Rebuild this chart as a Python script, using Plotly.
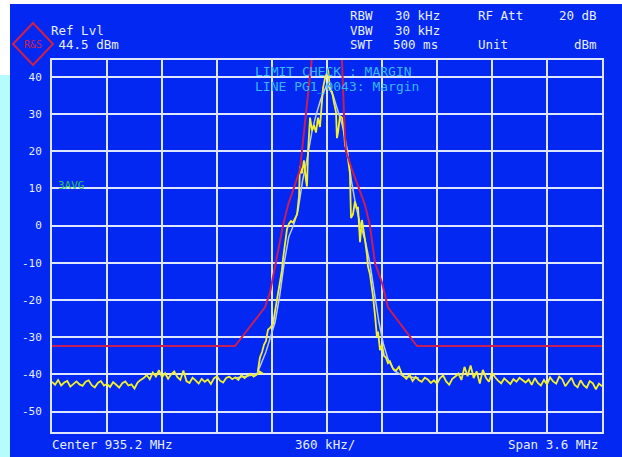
import plotly.graph_objects as go

# ---------------- data ----------------
CENTER_MHZ = 935.2
SPAN_MHZ = 3.6
REF_LVL = 44.5

y_tick_vals = [40, 30, 20, 10, 0, -10, -20, -30, -40, -50]
y_tick_text = ["40", "30", "20", "10", "0", "-10", "-20", "-30", "-40", "-50"]

# yellow measured trace (offset from centre in kHz, level in dBm)
noise_left_k = list(range(-1800, -400, 20))
noise_left_db = [
    -42.0, -42.8, -41.5, -43.0, -42.2, -41.8, -43.3, -42.5, -41.9, -42.7,
    -43.1, -42.0, -41.6, -42.9, -43.5, -42.3, -41.8, -43.0, -42.6, -43.4,
    -42.1, -42.8, -43.6, -42.4, -41.9, -43.0, -42.7, -43.8, -42.2, -41.5,
    -41.0, -40.2, -41.3, -39.5, -40.6, -38.9, -40.8, -39.7, -41.2, -40.0,
    -39.2, -40.7, -41.5, -39.0, -41.8, -42.3, -40.9, -41.6, -42.5, -41.2,
    -42.0, -41.4, -42.6, -41.1, -40.5, -41.7, -42.2, -41.0, -40.6, -41.3,
    -40.8, -41.5, -40.2, -41.0, -40.4, -39.8, -40.6, -40.1, -39.5, -39.8,
]
signal_k = [
    -452, -439, -425, -412, -399, -393, -386, -373, -360, -353, -340,
    -327, -321, -308, -295, -288, -275, -262, -249, -236, -223, -209, -196,
    -183, -177, -164, -151, -137, -131, -124, -111, -98, -85, -72, -59, -46,
    -33, -26, -13, 0, 7, 20, 33, 46, 59, 65, 72, 85, 98, 111, 118, 131, 137,
    150, 157, 170, 183, 196, 203, 216, 229, 236, 249, 262, 268, 281, 295, 301,
    314, 327, 334, 347, 360, 373, 386, 399, 412, 432, 452, 471, 491,
]
signal_db = [
    -39.0, -35.5, -34.0, -32.0, -31.0, -29.5, -28.0, -27.5, -27.0, -26.5, -23.0,
    -20.0, -18.0, -15.0, -12.0, -9.0, -5.0, -1.0, 0.5, 1.2, 0.8, 2.0, 3.0,
    8.0, 16.0, 14.0, 17.5, 12.0, 10.5, 20.0, 29.0, 25.5, 27.0, 25.0, 29.0, 26.5,
    33.0, 37.0, 39.5, 41.5, 42.0, 36.5, 36.0, 33.0, 30.5, 23.5, 25.0, 29.5, 29.0,
    26.0, 21.5, 20.0, 18.0, 14.0, 2.0, 3.0, 6.5, 4.5, 5.0, -4.5, 1.5, -1.0,
    -4.0, -8.0, -11.0, -13.0, -16.5, -19.0, -24.0, -30.0, -28.5, -33.5, -32.0,
    -35.0, -35.5, -37.0, -36.5, -38.5, -39.0, -38.0, -40.0,
]
noise_right_k = list(range(500, 1820, 20))
noise_right_db = [
    -40.5, -41.2, -40.0, -41.8, -40.7, -41.5, -42.0, -40.9, -41.4, -42.3,
    -41.6, -42.5, -41.0, -40.3, -41.9, -42.8, -41.2, -40.6, -39.8, -41.5,
    -38.0, -40.5, -37.6, -41.0, -39.2, -42.5, -38.8, -40.9, -42.0, -39.5,
    -40.8, -41.7, -42.4, -41.1, -41.8, -42.6, -41.3, -42.0, -40.9, -41.6,
    -42.2, -41.4, -42.8, -41.0, -42.3, -43.0, -41.5, -42.7, -40.8, -41.9,
    -42.5, -40.6, -41.3, -43.2, -42.0, -40.9, -42.8, -43.5, -41.6, -42.9,
    -43.6, -41.8, -42.4, -44.0, -42.5, -43.2,
]

# smoothed average trace (light blue)
avg_k = [-600, -460, -430, -400, -370, -340, -310, -280, -250, -220, -190, -160,
         -130, -100, -70, -40, 0, 40, 70, 100, 130, 160, 190, 220, 250, 280, 310,
         340, 370, 400, 440, 500, 600]
avg_db = [-41, -40, -37, -34, -30, -26, -19, -10, -3, 0, 4, 12, 18, 25, 30, 34,
          38, 35, 31, 27, 21, 12, 5, 0, -4, -10, -18, -26, -32, -36, -39, -40.5, -41]

# limit line PG1_0043
limit_k = [-1800, -602, -406, -373, -340, -288, -255, -177, -164, -137, -98, -60,
           60, 98, 111, 124, 164, 249, 281, 314, 360, 399, 589, 1800]
limit_db = [-32.4, -32.4, -22, -18, -11, 0, 5.5, 15, 20, 30, 44.5, 60,
            60, 44.5, 30, 20, 15, 5.5, 0, -10, -15.4, -22, -32.4, -32.4]


def to_mhz(ks):
    return [CENTER_MHZ + k / 1000.0 for k in ks]


trace_k = noise_left_k + signal_k + noise_right_k
trace_db = noise_left_db + signal_db + noise_right_db

# ---------------- layout helpers ----------------
W, H = 622, 457
L, R, T, B = 52, 20, 60, 25
PW, PH = W - L - R, H - T - B


def px(x):
    return (x - L) / PW


def py(y):
    return (H - B - y) / PH


BLUE = "#0228f2"
GRID = "#dfe6ff"
TXT = "#e8eeff"
CYAN_TXT = "#35b8ff"
MONO = "DejaVu Sans Mono"

fig = go.Figure()
fig.add_trace(go.Scatter(x=to_mhz(avg_k), y=avg_db, mode="lines",
                         line=dict(color="#b8c8ff", width=1.5), hoverinfo="skip"))
fig.add_trace(go.Scatter(x=to_mhz(trace_k), y=trace_db, mode="lines",
                         line=dict(color="#f2f22a", width=1.8)))
fig.add_trace(go.Scatter(x=to_mhz(limit_k), y=limit_db, mode="lines",
                         line=dict(color="#c81e55", width=2)))

x_lo = CENTER_MHZ - SPAN_MHZ / 2
x_hi = CENTER_MHZ + SPAN_MHZ / 2
fig.update_xaxes(range=[x_lo, x_hi], tickvals=[x_lo + 0.36 * i for i in range(11)],
                 showticklabels=False, showgrid=True, gridcolor=GRID, gridwidth=2,
                 zeroline=False, showline=True, mirror=True, linecolor=GRID,
                 linewidth=2, ticks="")
fig.update_yaxes(range=[REF_LVL - 100, REF_LVL], tickvals=y_tick_vals,
                 ticktext=y_tick_text, showgrid=True, gridcolor=GRID, gridwidth=2,
                 zeroline=False, showline=True, mirror=True, linecolor=GRID,
                 linewidth=2, ticks="", ticklabelstandoff=6,
                 tickfont=dict(family=MONO, size=11, color=TXT))

shapes = [
    dict(type="rect", xref="paper", yref="paper", x0=px(0), x1=px(W), y0=py(0), y1=py(4),
         fillcolor="white", line=dict(width=0), layer="below"),
    dict(type="rect", xref="paper", yref="paper", x0=px(0), x1=px(10), y0=py(0), y1=py(75),
         fillcolor="white", line=dict(width=0), layer="below"),
    dict(type="rect", xref="paper", yref="paper", x0=px(0), x1=px(10), y0=py(75), y1=py(H),
         fillcolor="#b4fcff", line=dict(width=0), layer="below"),
    dict(type="path", xref="paper", yref="paper",
         path=f"M {px(13)} {py(44)} L {px(33)} {py(23)} L {px(53)} {py(44)} L {px(33)} {py(65)} Z",
         line=dict(color="#d0204a", width=2)),
]

ann = []


def text(x, y, s, anchor="left", color=TXT, size=12.5):
    ann.append(dict(x=px(x), y=py(y), xref="paper", yref="paper", text=s, showarrow=False,
                    xanchor=anchor, yanchor="middle",
                    font=dict(family=MONO, size=size, color=color)))


text(49, 30, "Ref Lvl")
text(49, 44, "&nbsp;44.5 dBm")
text(348, 15, "RBW")
text(393, 15, "30 kHz")
text(476, 15, "RF Att")
text(599, 15, "20 dB", anchor="right")
text(348, 30, "VBW")
text(393, 30, "30 kHz")
text(348, 44, "SWT")
text(391, 44, "500 ms")
text(476, 44, "Unit")
text(599, 44, "dBm", anchor="right")
text(253, 72, "LIMIT CHECK : MARGIN", color=CYAN_TXT, size=13)
text(253, 86, "LINE PG1_0043: Margin", color=CYAN_TXT, size=13)
text(56, 185, "3AVG", color="#25c070", size=11)
text(50, 444, "Center 935.2 MHz")
text(325, 444, "360 kHz/", anchor="center")
text(600, 444, "Span 3.6 MHz", anchor="right")
text(33, 44, "R&S", anchor="center", color="#d0204a", size=10)

fig.update_layout(width=W, height=H, margin=dict(l=L, r=R, t=T, b=B, pad=0),
                  paper_bgcolor=BLUE, plot_bgcolor=BLUE, showlegend=False,
                  shapes=shapes, annotations=ann)
fig.write_html("out.html", config={"displayModeBar": False},
               post_script="document.body.style.margin='0';document.body.style.overflow='hidden';")
